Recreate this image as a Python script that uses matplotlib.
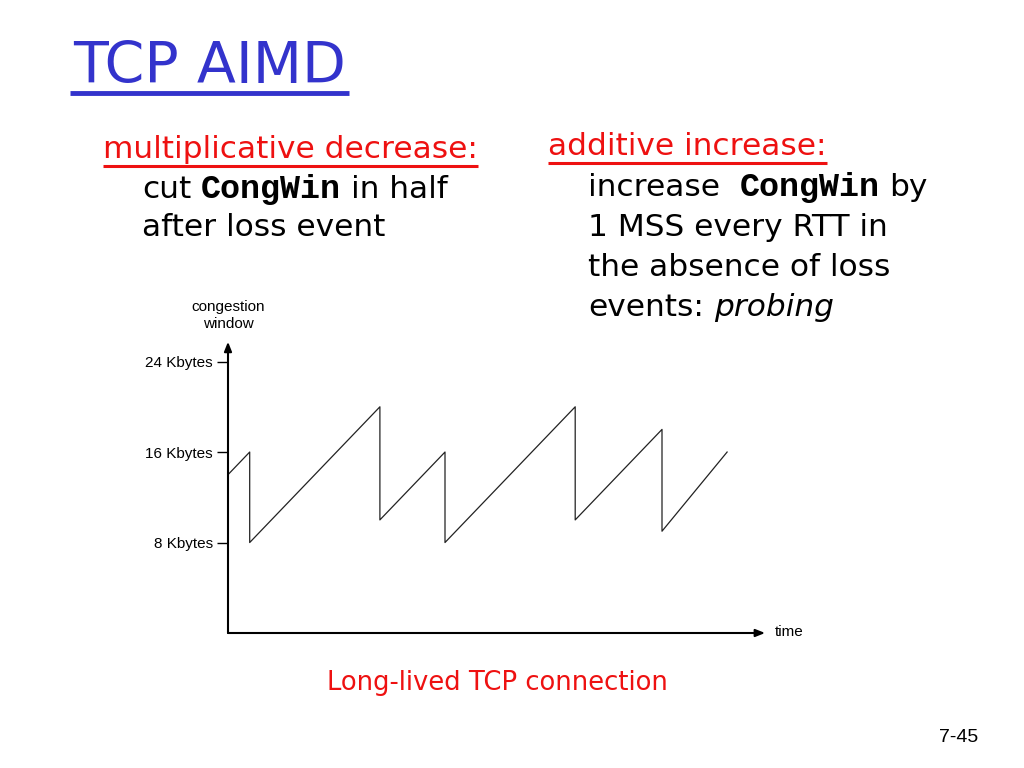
import matplotlib
matplotlib.use("Agg")
import matplotlib.pyplot as plt

# ---- data ----
time_pts = [0, 2, 2, 14, 14, 20, 20, 32, 32, 40, 40, 46]
cwnd_kb = [14, 16, 8, 20, 10, 16, 8, 20, 10, 18, 9, 16]
ytick_vals = [8, 16, 24]
ytick_labels = ["8 Kbytes", "16 Kbytes", "24 Kbytes"]

title_text = "TCP AIMD"
left_head = "multiplicative decrease:"
right_head = "additive increase:"
caption = "Long-lived TCP connection"
slide_no = "7-45"

RED = "#ee1111"
BLUE = "#3333cc"
BODY = "DejaVu Sans"
MONO = "Liberation Mono"
SANS = "Liberation Sans"

W, H = 1024, 768
fig = plt.figure(figsize=(W / 100, H / 100), dpi=100)
fig.patch.set_facecolor("white")

# overlay axes in pixel coordinates
bg = fig.add_axes([0, 0, 1, 1])
bg.set_xlim(0, W)
bg.set_ylim(H, 0)
bg.axis("off")

# ---- chart axes ----
x0, y0 = 228, 633
xmax, ymax = 49.5, 25.75
px_x, px_y = 10.85, 11.31
ax = fig.add_axes([x0 / W, (H - y0) / H, xmax * px_x / W, ymax * px_y / H])
ax.set_xlim(0, xmax)
ax.set_ylim(0, ymax)
for s in ax.spines.values():
    s.set_visible(False)
ax.patch.set_alpha(0)
ax.plot(time_pts, cwnd_kb, color="#222222", lw=0.9, clip_on=False)
ax.set_xticks([])
ax.set_yticks(ytick_vals)
ax.set_yticklabels(ytick_labels, fontfamily=SANS, fontsize=11)
ax.tick_params(axis="y", direction="out", length=8, width=1, pad=3)
arrow = dict(arrowstyle="-|>,head_length=0.55,head_width=0.22", lw=1.5,
             color="black", shrinkA=0, shrinkB=0)
ax.annotate("", xy=(1, 0), xytext=(0, 0), xycoords="axes fraction",
            textcoords="axes fraction", arrowprops=arrow, annotation_clip=False)
ax.annotate("", xy=(0, 1), xytext=(0, 0), xycoords="axes fraction",
            textcoords="axes fraction", arrowprops=arrow, annotation_clip=False)
bg.text(228, 307, "congestion", ha="center", va="center", fontfamily=SANS, fontsize=11)
bg.text(228, 324, "window", ha="center", va="center", fontfamily=SANS, fontsize=11)
bg.text(775, 632, "time", ha="left", va="center", fontfamily=SANS, fontsize=11)

# ---- texts ----
fig.canvas.draw()
renderer = fig.canvas.get_renderer()


def text_w(s, **kw):
    t = bg.text(0, 0, s, **kw)
    w = t.get_window_extent(renderer).width
    t.remove()
    return w


body_kw = dict(fontfamily=BODY, fontsize=22.5, color="black")
mono_kw = dict(fontfamily=MONO, fontsize=24, fontweight="bold", color="black")
ital_kw = dict(fontfamily=BODY, fontsize=22.5, style="italic", color="black")
SPACE = text_w("a a", **body_kw) - text_w("aa", **body_kw)


def draw_runs(x, y, runs):
    for item in runs:
        if isinstance(item, (int, float)):
            x += item * SPACE
            continue
        s, kw = item
        t = bg.text(x, y, s, ha="left", va="baseline", **kw)
        x += t.get_window_extent(renderer).width
    return x


# title
t = bg.text(73, 83, title_text, ha="left", va="baseline", fontfamily=BODY,
            fontsize=41, color=BLUE)
tw = t.get_window_extent(renderer).width
bg.plot([70, 73 + tw + 3], [93, 93], color=BLUE, lw=3.5, solid_capstyle="butt")

# left block
head_kw = dict(fontfamily=BODY, fontsize=22.5, color=RED)
hw = text_w(left_head, **head_kw)
bg.text(103, 158, left_head, ha="left", va="baseline", **head_kw)
bg.plot([103, 103 + hw], [166, 166], color=RED, lw=2.2, solid_capstyle="butt")
draw_runs(142, 198, [("cut", body_kw), 1, ("CongWin", mono_kw), 1, ("in half", body_kw)])
draw_runs(142, 236, [("after loss event", body_kw)])

# right block
hw = text_w(right_head, **head_kw)
bg.text(548, 155, right_head, ha="left", va="baseline", **head_kw)
bg.plot([548, 548 + hw], [163, 163], color=RED, lw=2.2, solid_capstyle="butt")
draw_runs(588, 196, [("increase", body_kw), 2, ("CongWin", mono_kw), 1, ("by", body_kw)])
draw_runs(588, 236, [("1 MSS every RTT in", body_kw)])
draw_runs(588, 276, [("the absence of loss", body_kw)])
draw_runs(588, 316, [("events:", body_kw), 1, ("probing", ital_kw)])

# caption & slide number
bg.text(497, 690, caption, ha="center", va="baseline", fontfamily=BODY,
        fontsize=18.6, color=RED)
bg.text(978, 742, slide_no, ha="right", va="baseline", fontfamily=SANS,
        fontsize=14, color="black")

fig.savefig("out.png", dpi=100, facecolor="white")
